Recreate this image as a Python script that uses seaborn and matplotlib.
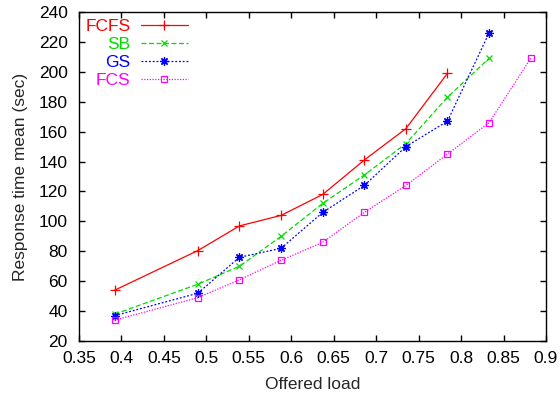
import matplotlib
matplotlib.use("Agg")
import matplotlib.pyplot as plt
import seaborn as sns
import pandas as pd

# offered load values (x) and response time means per scheduler
load_fcfs = [0.392, 0.490, 0.539, 0.588, 0.637, 0.686, 0.735, 0.784]
fcfs = [54, 80.5, 97, 104, 118, 141, 162, 199]

load_sb = [0.392, 0.490, 0.539, 0.588, 0.637, 0.686, 0.735, 0.784, 0.833]
sb = [38, 58, 70, 90, 112, 131, 152, 183, 209]

load_gs = [0.392, 0.490, 0.539, 0.588, 0.637, 0.686, 0.735, 0.784, 0.833]
gs = [37, 52, 76, 82, 106, 124, 150, 167, 226]

load_fcs = [0.392, 0.490, 0.539, 0.588, 0.637, 0.686, 0.735, 0.784, 0.833, 0.882]
fcs = [34, 49, 61, 74, 86, 106, 124, 145, 166, 209]

x_ticks = [0.35, 0.4, 0.45, 0.5, 0.55, 0.6, 0.65, 0.7, 0.75, 0.8, 0.85, 0.9]
y_ticks = [20, 40, 60, 80, 100, 120, 140, 160, 180, 200, 220, 240]

sns.set_style("ticks")
plt.rcParams['font.family'] = ['Liberation Sans', 'DejaVu Sans']

fig, ax = plt.subplots(figsize=(5.6, 3.98), dpi=100)
fig.subplots_adjust(left=0.141, right=0.975, top=0.970, bottom=0.143)

series = [
    ("FCFS", load_fcfs, fcfs, "#ff0000", "+", 6.5, (None, None)),
    ("SB", load_sb, sb, "#00dd00", "x", 5, (4, 2)),
    ("GS", load_gs, gs, "#0000ff", (8, 2, 0), 6, (1.5, 1.5)),
    ("FCS", load_fcs, fcs, "#ff00ff", "s", 5, (1, 1.2)),
]

for name, xs, ys, col, mk, ms, dash in series:
    df = pd.DataFrame({"load": xs, "resp": ys})
    kw = {}
    if dash[0] is not None:
        kw["dashes"] = dash
    sns.lineplot(data=df, x="load", y="resp", ax=ax, label=name, color=col,
                 marker=mk, markersize=ms, markerfacecolor="none",
                 markeredgecolor=col, markeredgewidth=0.9, linewidth=0.9, **kw)

ax.set_xlim(0.35, 0.9)
ax.set_ylim(20, 240)
ax.set_xticks(x_ticks)
ax.set_xticklabels([f"{t:g}" for t in x_ticks])
ax.set_yticks(y_ticks)
ax.tick_params(direction="in", length=4, width=1, top=True, right=True,
               labelsize=12.5, colors="black")
ax.tick_params(axis="y", pad=8)
ax.tick_params(axis="x", pad=7)
for s in ax.spines.values():
    s.set_visible(True)
    s.set_linewidth(1)
    s.set_color("black")

ax.set_xlabel("Offered load", fontsize=12.5, labelpad=8)
ax.set_ylabel("Response time mean (sec)", fontsize=12.5, labelpad=8)

ax.legend(loc="upper left", bbox_to_anchor=(-0.005, 1.005), markerfirst=False,
          labelcolor="linecolor", frameon=False, fontsize=12.5, handlelength=2.7,
          handletextpad=0.6, labelspacing=0.17, borderpad=0, numpoints=1)

fig.savefig("out.png", dpi=100)
